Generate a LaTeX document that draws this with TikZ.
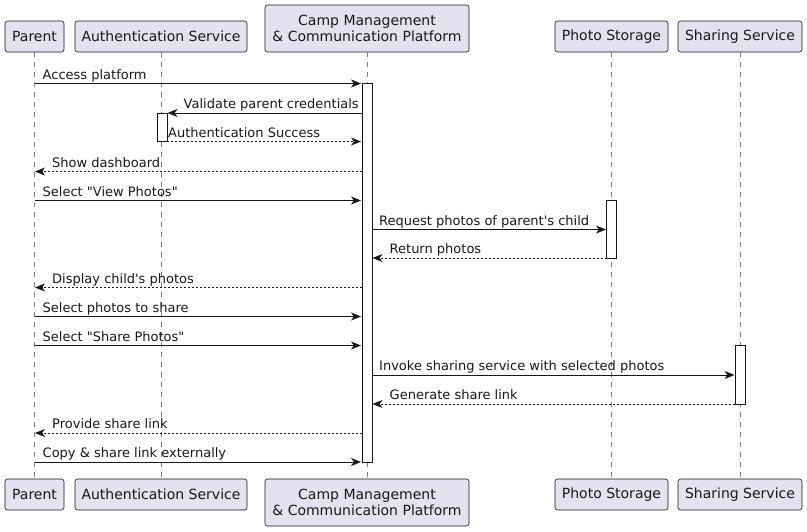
\documentclass[tikz,border=0pt]{standalone}
\usepackage{fontspec}
\setmainfont{DejaVu Sans}[Ligatures=TeXOff]
\usetikzlibrary{arrows.meta}
\definecolor{partfill}{HTML}{E2E2F0}
\definecolor{ink}{HTML}{181818}
\begin{document}
\begin{tikzpicture}[x=1pt,y=-1pt,
  part/.style={draw=ink, fill=partfill, rounded corners=2.5pt, line width=0.6pt, inner sep=0pt,
    font=\fontsize{14}{16}\selectfont, align=center, text=ink},
  life/.style={draw=ink!55, line width=0.6pt, dash pattern=on 5pt off 5pt},
  actbar/.style={draw=ink, fill=white, line width=0.8pt},
  msg/.style={draw=ink, line width=0.9pt, -{Stealth[length=10pt,width=8pt,inset=3pt]}},
  ret/.style={msg, dash pattern=on 2pt off 2pt},
  lbl/.style={anchor=base west, inner sep=0pt, font=\fontsize{13}{15}\selectfont, text=ink}]
\useasboundingbox (0,0) rectangle (807,531);

% participants top
\node[part, minimum width=59pt, minimum height=31pt] (pT) at (34.5,36.5) {Parent};
\node[part, minimum width=172pt, minimum height=31pt] (aT) at (161,36.5) {Authentication Service};
\node[part, minimum width=204pt, minimum height=47pt] (cT) at (367,28.5) {Camp Management\\\& Communication Platform};
\node[part, minimum width=113pt, minimum height=31pt] (sT) at (611.5,36.5) {Photo Storage};
\node[part, minimum width=124pt, minimum height=31pt] (hT) at (740,36.5) {Sharing Service};
% participants bottom
\node[part, minimum width=59pt, minimum height=31pt] (pB) at (34.5,494.5) {Parent};
\node[part, minimum width=172pt, minimum height=31pt] (aB) at (161,494.5) {Authentication Service};
\node[part, minimum width=204pt, minimum height=47pt] (cB) at (367,502.5) {Camp Management\\\& Communication Platform};
\node[part, minimum width=113pt, minimum height=31pt] (sB) at (611.5,494.5) {Photo Storage};
\node[part, minimum width=124pt, minimum height=31pt] (hB) at (740,494.5) {Sharing Service};

% lifelines
\draw[life] (pT.south) -- (pB.north);
\draw[life] (aT.south) -- (aB.north);
\draw[life] (cT.south) -- (cB.north);
\draw[life] (sT.south) -- (sB.north);
\draw[life] (hT.south) -- (hB.north);

% activation bars
\draw[actbar] (362,83.5) rectangle (372,462);
\draw[actbar] (157,113) rectangle (167,141.5);
\draw[actbar] (606.5,200.5) rectangle (616.5,258);
\draw[actbar] (735,345) rectangle (745,404);

% messages
\coordinate (m1s) at (34.5,83.5);  \coordinate (m1e) at (361,83.5);
\draw[msg] (m1s) -- (m1e);
\node[lbl] at ([xshift=8pt,yshift=4.5pt]m1s) {Access platform};

\coordinate (m2s) at (362,113);  \coordinate (m2e) at (167.5,113);
\draw[msg] (m2s) -- (m2e);
\node[lbl] at ([xshift=16pt,yshift=4.5pt]m2e) {Validate parent credentials};

\coordinate (m3s) at (167,141.5);  \coordinate (m3e) at (361,141.5);
\draw[ret] (m3s) -- (m3e);
\node[lbl] at ([xshift=1pt,yshift=4.5pt]m3s) {Authentication Success};

\coordinate (m4s) at (362,171.5);  \coordinate (m4e) at (35,171.5);
\draw[ret] (m4s) -- (m4e);
\node[lbl] at ([xshift=17pt,yshift=4.5pt]m4e) {Show dashboard};

\coordinate (m5s) at (34.5,200.5);  \coordinate (m5e) at (361,200.5);
\draw[msg] (m5s) -- (m5e);
\node[lbl] at ([xshift=8pt,yshift=4.5pt]m5s) {Select "View Photos"};

\coordinate (m6s) at (372,229.5);  \coordinate (m6e) at (606,229.5);
\draw[msg] (m6s) -- (m6e);
\node[lbl] at ([xshift=7pt,yshift=4.5pt]m6s) {Request photos of parent's child};

\coordinate (m7s) at (606.5,258);  \coordinate (m7e) at (372.5,258);
\draw[ret] (m7s) -- (m7e);
\node[lbl] at ([xshift=17pt,yshift=4.5pt]m7e) {Return photos};

\coordinate (m8s) at (362,287.5);  \coordinate (m8e) at (35,287.5);
\draw[ret] (m8s) -- (m8e);
\node[lbl] at ([xshift=17pt,yshift=4.5pt]m8e) {Display child's photos};

\coordinate (m9s) at (34.5,316.5);  \coordinate (m9e) at (361,316.5);
\draw[msg] (m9s) -- (m9e);
\node[lbl] at ([xshift=8pt,yshift=4.5pt]m9s) {Select photos to share};

\coordinate (m10s) at (34.5,345.5);  \coordinate (m10e) at (361,345.5);
\draw[msg] (m10s) -- (m10e);
\node[lbl] at ([xshift=8pt,yshift=4.5pt]m10s) {Select "Share Photos"};

\coordinate (m11s) at (372,375);  \coordinate (m11e) at (734.5,375);
\draw[msg] (m11s) -- (m11e);
\node[lbl] at ([xshift=7pt,yshift=4.5pt]m11s) {Invoke sharing service with selected photos};

\coordinate (m12s) at (735,404);  \coordinate (m12e) at (372.5,404);
\draw[ret] (m12s) -- (m12e);
\node[lbl] at ([xshift=17pt,yshift=4.5pt]m12e) {Generate share link};

\coordinate (m13s) at (362,433);  \coordinate (m13e) at (35,433);
\draw[ret] (m13s) -- (m13e);
\node[lbl] at ([xshift=17pt,yshift=4.5pt]m13e) {Provide share link};

\coordinate (m14s) at (34.5,462);  \coordinate (m14e) at (361,462);
\draw[msg] (m14s) -- (m14e);
\node[lbl] at ([xshift=8pt,yshift=4.5pt]m14s) {Copy \& share link externally};
\end{tikzpicture}
\end{document}
